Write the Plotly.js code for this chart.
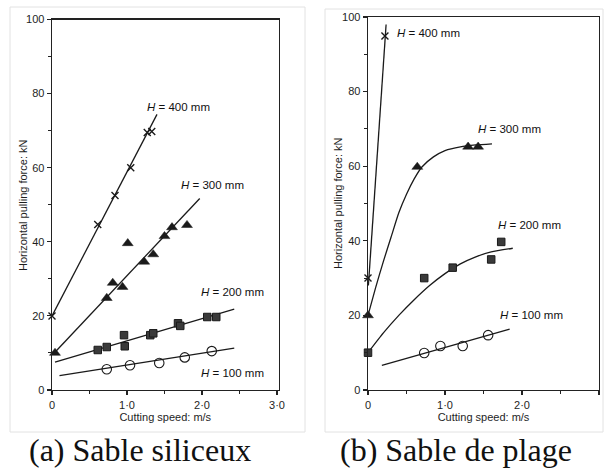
<!DOCTYPE html>
<html>
<head>
<meta charset="utf-8">
<script src="https://cdn.plot.ly/plotly-3.0.1.min.js"></script>
<style>html,body{margin:0;padding:0;background:#fff;}#chart{width:605px;height:473px;}</style>
</head>
<body>
<div id="chart"></div>
<script>
// ---------- Panel (a): Sable siliceux ----------
const a400X = [0, 0.61, 0.84, 1.05, 1.27, 1.33];
const a400Y = [20, 44.7, 52.5, 60, 69.5, 69.8];
const a300X = [0.04, 0.73, 0.81, 0.94, 1.01, 1.23, 1.35, 1.5, 1.6, 1.8];
const a300Y = [10, 24.8, 28.9, 27.8, 39.6, 34.6, 36.6, 41.5, 43.9, 44.5];
const a200X = [0.61, 0.73, 0.96, 0.97, 1.31, 1.35, 1.68, 1.71, 2.07, 2.19];
const a200Y = [10.8, 11.6, 14.8, 11.8, 14.8, 15.3, 18, 17.3, 19.7, 19.7];
const a100X = [0.73, 1.04, 1.43, 1.77, 2.13];
const a100Y = [5.6, 6.7, 7.3, 8.8, 10.5];
// fitted lines
const aFit400X = [0, 1.4],   aFit400Y = [20, 74.4];
const aFit300X = [0.03, 1.97], aFit300Y = [10, 51.7];
const aFit200X = [0.04, 2.43], aFit200Y = [7.5, 21.8];
const aFit100X = [0.1, 2.43],  aFit100Y = [3.9, 11.3];

// ---------- Panel (b): Sable de plage ----------
const b400X = [0, 0.22];
const b400Y = [30, 94.9];
const b300X = [0, 0.64, 1.30, 1.43];
const b300Y = [20, 59.8, 65.2, 65.2];
const b200X = [0, 0.73, 1.1, 1.6, 1.73];
const b200Y = [10, 30, 32.8, 35, 39.7];
const b100X = [0.73, 0.94, 1.23, 1.56];
const b100Y = [9.9, 11.8, 11.8, 14.7];
const bFit400X = [0.005, 0.235], bFit400Y = [28, 98];
const bFit300X = [0, 0.1, 0.2, 0.3, 0.4, 0.5, 0.6, 0.7, 0.85, 1.0, 1.2, 1.4, 1.61];
const bFit300Y = [20, 27.5, 34.5, 41, 47.5, 52.5, 56.6, 59.8, 62.5, 64.2, 65.2, 65.7, 66];
const bFit200X = [0, 0.2, 0.4, 0.6, 0.8, 1.0, 1.2, 1.4, 1.6, 1.88];
const bFit200Y = [10, 15.3, 20, 24.2, 28, 31.2, 33.8, 35.7, 37, 38];
const bFit100X = [0.18, 1.84], bFit100Y = [6.6, 16.3];

const labels = ['<i>H</i> = 400 mm', '<i>H</i> = 300 mm', '<i>H</i> = 200 mm', '<i>H</i> = 100 mm'];
const aLabelX = [1.68, 2.14, 2.41, 2.41], aLabelY = [76.5, 55.3, 26.4, 4.6];
const bLabelX = [0.78, 1.84, 2.10, 2.12], bLabelY = [95.7, 70, 44.2, 20.1];

const xTickVals = [0, 1, 2, 3];
const xTickText = ['0', '1·0', '2·0', '3·0'];
const yTickVals = [0, 20, 40, 60, 80, 100];
const yTickText = ['0', '20', '40', '60', '80', '100'];
const subtitles = ['(a) Sable siliceux', '(b) Sable de plage'];
const xTitle = 'Cutting speed: m/s';
const yTitle = 'Horizontal pulling force: kN';

const ink = '#1a1a1a';
const lineStyle = {color: ink, width: 1.3};
const mk = {
  cross: {symbol: 'x-thin', size: 7, line: {color: ink, width: 1.4}},
  tri: {symbol: 'triangle-up', size: 9.5, color: ink, line: {color: ink, width: 0.5}},
  sq: {symbol: 'square', size: 7.5, color: '#3a3a3a', line: {color: ink, width: 1}},
  circ: {symbol: 'circle-open', size: 9.5, color: ink, line: {color: ink, width: 1.1}}
};

function lineTrace(x, y, ax, spline) {
  return {x: x, y: y, xaxis: ax[0], yaxis: ax[1], mode: 'lines',
    line: Object.assign({}, lineStyle, spline ? {shape: 'spline', smoothing: 0.6} : {}),
    hoverinfo: 'skip', showlegend: false};
}
function markTrace(x, y, ax, m) {
  return {x: x, y: y, xaxis: ax[0], yaxis: ax[1], mode: 'markers', marker: m,
    cliponaxis: false, showlegend: false};
}
const A = ['x', 'y'], B = ['x2', 'y2'];
const data = [
  lineTrace(aFit400X, aFit400Y, A), lineTrace(aFit300X, aFit300Y, A),
  lineTrace(aFit200X, aFit200Y, A), lineTrace(aFit100X, aFit100Y, A),
  markTrace(a400X, a400Y, A, mk.cross), markTrace(a300X, a300Y, A, mk.tri),
  markTrace(a200X, a200Y, A, mk.sq), markTrace(a100X, a100Y, A, mk.circ),
  lineTrace(bFit400X, bFit400Y, B), lineTrace(bFit300X, bFit300Y, B, true),
  lineTrace(bFit200X, bFit200Y, B, true), lineTrace(bFit100X, bFit100Y, B),
  markTrace(b400X, b400Y, B, mk.cross), markTrace(b300X, b300Y, B, mk.tri),
  markTrace(b200X, b200Y, B, mk.sq), markTrace(b100X, b100Y, B, mk.circ)
];

const W = 605, H = 473;
const tickFont = {family: 'Liberation Sans, Arial, sans-serif', size: 11, color: '#1e1e1e'};
function xAxis(domain, range, anchor) {
  return {domain: domain, range: range, anchor: anchor, showgrid: false, zeroline: false,
    showline: true, mirror: true, linecolor: '#222', linewidth: 1.4,
    ticks: 'outside', ticklen: 4, tickwidth: 1.2, tickcolor: '#222',
    tickmode: 'array', tickvals: xTickVals, ticktext: xTickText, tickfont: tickFont,
    minor: {tickmode: 'array', tickvals: [0.5, 1.5, 2.5], ticks: 'outside', ticklen: 3, tickwidth: 1, tickcolor: '#222', showgrid: false},
    title: {text: xTitle, font: tickFont, standoff: 2}, fixedrange: true};
}
function yAxis(domain, anchor) {
  return {domain: domain, range: [0, 100], anchor: anchor, showgrid: false, zeroline: false,
    showline: true, mirror: true, linecolor: '#222', linewidth: 1.4,
    ticks: 'outside', ticklen: 4, tickwidth: 1.2, tickcolor: '#222',
    tickmode: 'array', tickvals: yTickVals, ticktext: yTickText, tickfont: tickFont,
    minor: {tickmode: 'array', tickvals: [10, 30, 50, 70, 90], ticks: 'outside', ticklen: 3, tickwidth: 1, tickcolor: '#222', showgrid: false},
    fixedrange: true};
}

const annotations = [];
const labFont = {family: 'Liberation Sans, Arial, sans-serif', size: 11.5, color: '#111'};
labels.forEach((t, i) => {
  annotations.push({xref: 'x', yref: 'y', x: aLabelX[i], y: aLabelY[i], text: t, showarrow: false, font: labFont, xanchor: 'center', yanchor: 'middle'});
  annotations.push({xref: 'x2', yref: 'y2', x: bLabelX[i], y: bLabelY[i], text: t, showarrow: false, font: labFont, xanchor: 'center', yanchor: 'middle'});
});
// y-axis titles (rotated)
annotations.push({xref: 'paper', yref: 'paper', x: 23 / W, y: 1 - 205 / H, text: yTitle, textangle: -90, showarrow: false, font: tickFont, xanchor: 'center', yanchor: 'middle'});
annotations.push({xref: 'paper', yref: 'paper', x: 338 / W, y: 1 - 203 / H, text: yTitle, textangle: -90, showarrow: false, font: tickFont, xanchor: 'center', yanchor: 'middle'});
const subFont = {family: 'Liberation Serif, DejaVu Serif, serif', size: 32, color: '#111'};
annotations.push({xref: 'paper', yref: 'paper', x: 140 / W, y: 1 - 450 / H, text: subtitles[0], showarrow: false, font: subFont, xanchor: 'center', yanchor: 'middle'});
annotations.push({xref: 'paper', yref: 'paper', x: 456 / W, y: 1 - 450 / H, text: subtitles[1], showarrow: false, font: subFont, xanchor: 'center', yanchor: 'middle'});

const frame = {color: '#e2e2e2', width: 1};
const shapes = [
  {type: 'rect', xref: 'paper', yref: 'paper', x0: 10 / W, x1: 305 / W, y0: 1 - 432 / H, y1: 1 - 7 / H, line: frame},
  {type: 'rect', xref: 'paper', yref: 'paper', x0: 325 / W, x1: 603 / W, y0: 1 - 432 / H, y1: 1 - 9 / H, line: frame}
];

const layout = {
  width: W, height: H, margin: {l: 0, r: 0, t: 0, b: 0},
  paper_bgcolor: '#fff', plot_bgcolor: '#fff', showlegend: false,
  xaxis: xAxis([52 / W, 278.5 / W], [0, 3.02], 'y'),
  yaxis: yAxis([1 - 390 / H, 1 - 19.5 / H], 'x'),
  xaxis2: xAxis([368 / W, 599 / W], [0, 3.0], 'y2'),
  yaxis2: yAxis([1 - 390 / H, 1 - 17 / H], 'x2'),
  annotations: annotations, shapes: shapes
};
Plotly.newPlot('chart', data, layout, {displayModeBar: false, staticPlot: true});
</script>
</body>
</html>
